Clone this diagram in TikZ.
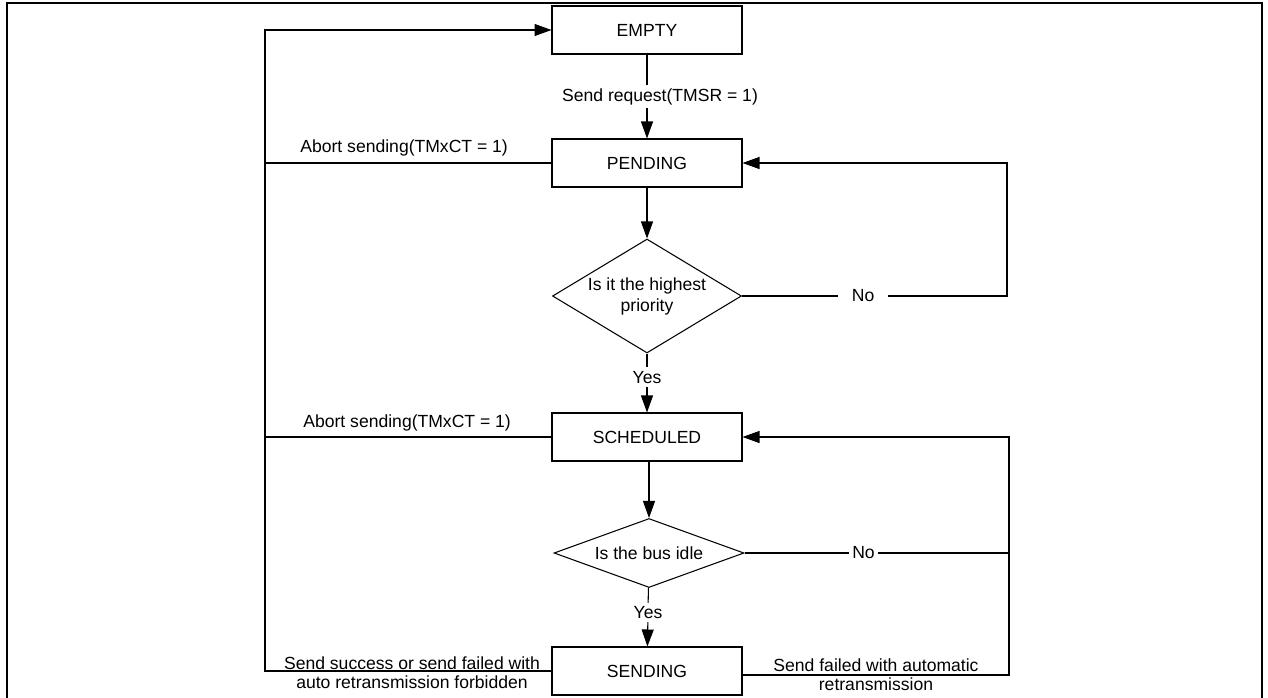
\documentclass[tikz,border=0pt]{standalone}
\usepackage{fontspec}
\setmainfont{Liberation Sans}
\usetikzlibrary{shapes.geometric, positioning, arrows.meta, calc}

\begin{document}
\begin{tikzpicture}[x=0.02cm, y=-0.02cm, line width=0.6pt,
  font=\fontsize{10}{12}\selectfont,
  state/.style={draw, minimum width=3.8cm, minimum height=0.96cm, inner sep=0pt},
  test/.style={draw, diamond, inner sep=0pt, align=center},
  flow/.style={-{Triangle[length=0.34cm, width=0.24cm]}},
  cut/.style={fill=white, inner sep=2pt}]
\useasboundingbox (0,0) rectangle (1268,697);

%frame
  \draw[line width=1.3pt] (7,720) -- (7,3) -- (1262,3) -- (1262,720);

%states
  \node[state] (empty) at (647,30) {EMPTY};
  \node[state] (pending) at (647,163) {PENDING};
  \node[test, minimum width=3.78cm, minimum height=2.28cm, aspect=1.66] (prio) at (647,296) {Is it the highest\\priority};
  \node[state] (sched) at (647,437) {SCHEDULED};
  \node[test, minimum width=3.8cm, minimum height=1.38cm, aspect=2.75] (idle) at (649,553) {Is the bus idle};
  \node[state] (sending) at (647,671) {SENDING};

%loop lines
  \coordinate (left) at (265,0);
  \coordinate (loop1) at (1007,0);
  \coordinate (loop2) at (1009,0);

%edges
  \draw[flow] (empty) -- node[cut, xshift=0.26cm] (req) {Send request(TMSR = 1)} (pending);
  \draw[flow] (pending) -- (prio);
  \draw[flow] (prio) -- node[cut, pos=0.4] (yes1) {Yes} (sched);
  \draw[flow] (prio.east) -- node[cut, pos=0.457, inner xsep=0.28cm] (no1) {No} (prio.east -| loop1) |- (pending.east);
  \draw[flow] (sched.south -| idle) -- (idle);
  \draw[flow] (idle) -- node[cut, pos=0.42] (yes2) {Yes} (sending);
  \draw (idle.east) -- node[cut, pos=0.45] (no2) {No} (idle.east -| loop2);
  \draw[flow] ([yshift=-0.08cm]sending.east) -- ([yshift=-0.08cm]sending.east -| loop2) |- (sched.east);
  \draw (pending.west) -- (pending.west -| left);
  \draw (sched.west) -- (sched.west -| left);
  \draw[flow] (sending.west) -- (sending.west -| left) |- (empty.west);

%labels
  \node[anchor=base west] (abort1) at (294,152) {Abort sending(TMxCT = 1)};
  \node[anchor=base west] (abort2) at (297,427) {Abort sending(TMxCT = 1)};
  \node[anchor=base] (done1) at (412,669) {Send success or send failed with};
  \node[anchor=base] (done2) at (412,688) {auto retransmission forbidden};
  \node[anchor=base] (retry1) at (876,671) {Send failed with automatic};
  \node[anchor=base] (retry2) at (876,690) {retransmission};
\end{tikzpicture}
\end{document}
